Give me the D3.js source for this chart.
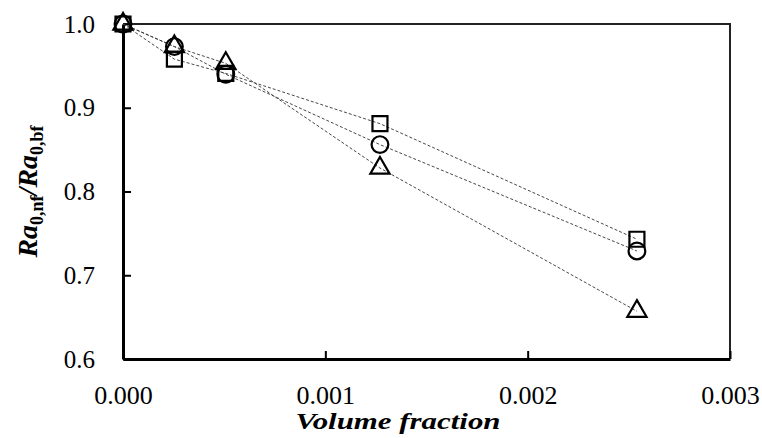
<!DOCTYPE html>
<html>
<head>
<meta charset="utf-8">
<script src="https://cdn.jsdelivr.net/npm/d3@7"></script>
<style>
  body { margin: 0; background: #fff; }
  svg { display: block; }
</style>
</head>
<body>
<div id="chart"></div>
<script>
const WIDTH = 762;
const HEIGHT = 438;
const FONT = "'Liberation Serif', 'DejaVu Serif', serif";

// volume fraction (x) and Ra0,nf/Ra0,bf for the three series
const volumeFraction = [0, 0.000254, 0.000508, 0.00127, 0.00254];
const squareVals = [1.0, 0.958, 0.941, 0.881, 0.743];
const circleVals = [1.0, 0.973, 0.940, 0.856, 0.729];
const triangleVals = [1.0, 0.973, 0.953, 0.828, 0.657];
const xTicks = [0, 0.001, 0.002, 0.003];
const yTicks = [0.6, 0.7, 0.8, 0.9, 1.0];

const margin = { left: 123, right: 32, top: 24, bottom: 79 };

let svg = d3.select("#chart").append("svg")
  .attr("width", WIDTH)
  .attr("height", HEIGHT)
  .style("font-family", FONT);

let x = d3.scaleLinear().domain([0, 0.003]).range([margin.left, WIDTH - margin.right]);
let y = d3.scaleLinear().domain([0.6, 1.0]).range([HEIGHT - margin.bottom, margin.top]);

// top + right frame
svg.append("path")
  .attr("d", `M${x(0)},${y(1)}H${x(0.003)}V${y(0.6)}`)
  .attr("fill", "none")
  .attr("stroke", "#222")
  .attr("stroke-width", 2);

let xAxis = d3.axisBottom(x)
  .tickValues(xTicks)
  .tickFormat(d3.format(".3f"))
  .tickSizeInner(-8)
  .tickSizeOuter(0)
  .tickPadding(27);

let yAxis = d3.axisLeft(y)
  .tickValues(yTicks)
  .tickFormat(d3.format(".1f"))
  .tickSizeInner(-8)
  .tickSizeOuter(0)
  .tickPadding(28);

let gx = svg.append("g")
  .attr("transform", "translate(0," + y(0.6) + ")")
  .call(xAxis);

let gy = svg.append("g")
  .attr("transform", "translate(" + x(0) + ",0)")
  .call(yAxis);

gx.attr("font-family", FONT).attr("font-size", 26);
gy.attr("font-family", FONT).attr("font-size", 25);

[gx, gy].forEach(g => {
  g.select(".domain").attr("stroke", "#000").attr("stroke-width", 3);
  g.selectAll(".tick line").attr("stroke", "#000").attr("stroke-width", 2);
  g.selectAll(".tick text").style("font-family", FONT).attr("fill", "#000");
});

// dashed connecting lines
let series = [
  { vals: squareVals, shape: "square" },
  { vals: circleVals, shape: "circle" },
  { vals: triangleVals, shape: "triangle" }
];

let line = d3.line()
  .x(d => x(d[0]))
  .y(d => y(d[1]));

series.forEach(s => {
  svg.append("path")
    .datum(volumeFraction.map((v, i) => [v, s.vals[i]]))
    .attr("d", line)
    .attr("fill", "none")
    .attr("stroke", "#333")
    .attr("stroke-width", 0.9)
    .attr("stroke-dasharray", "3,2");
});

// markers
let symbols = {
  square: d3.symbol().type(d3.symbolSquare).size(225),
  circle: d3.symbol().type(d3.symbolCircle).size(220),
  triangle: d3.symbol().type(d3.symbolTriangle).size(160)
};

series.forEach(s => {
  svg.append("g")
    .selectAll("path")
    .data(volumeFraction.map((v, i) => [v, s.vals[i]]))
    .join("path")
    .attr("transform", d => "translate(" + x(d[0]) + "," + y(d[1]) + ")")
    .attr("d", symbols[s.shape])
    .attr("fill", "none")
    .attr("stroke", "#000")
    .attr("stroke-width", 2.2);
});

// axis titles
svg.append("text")
  .attr("x", 398)
  .attr("y", 429)
  .attr("text-anchor", "middle")
  .style("font-family", FONT)
  .style("font-size", "24px")
  .style("font-weight", "bold")
  .style("font-style", "italic")
  .attr("textLength", 205)
  .attr("lengthAdjust", "spacingAndGlyphs")
  .text("Volume fraction");

let ylab = svg.append("text")
  .attr("transform", "translate(37," + ((y(0.6) + y(1)) / 2) + ") rotate(-90)")
  .attr("text-anchor", "middle")
  .style("font-family", FONT)
  .style("font-size", "28px")
  .style("font-weight", "bold");
ylab.append("tspan").style("font-style", "italic").text("Ra");
ylab.append("tspan").attr("dy", 6).style("font-size", "18px").text("0,nf");
ylab.append("tspan").attr("dy", -6).style("font-style", "italic").text("/Ra");
ylab.append("tspan").attr("dy", 6).style("font-size", "18px").text("0,bf");
</script>
</body>
</html>
